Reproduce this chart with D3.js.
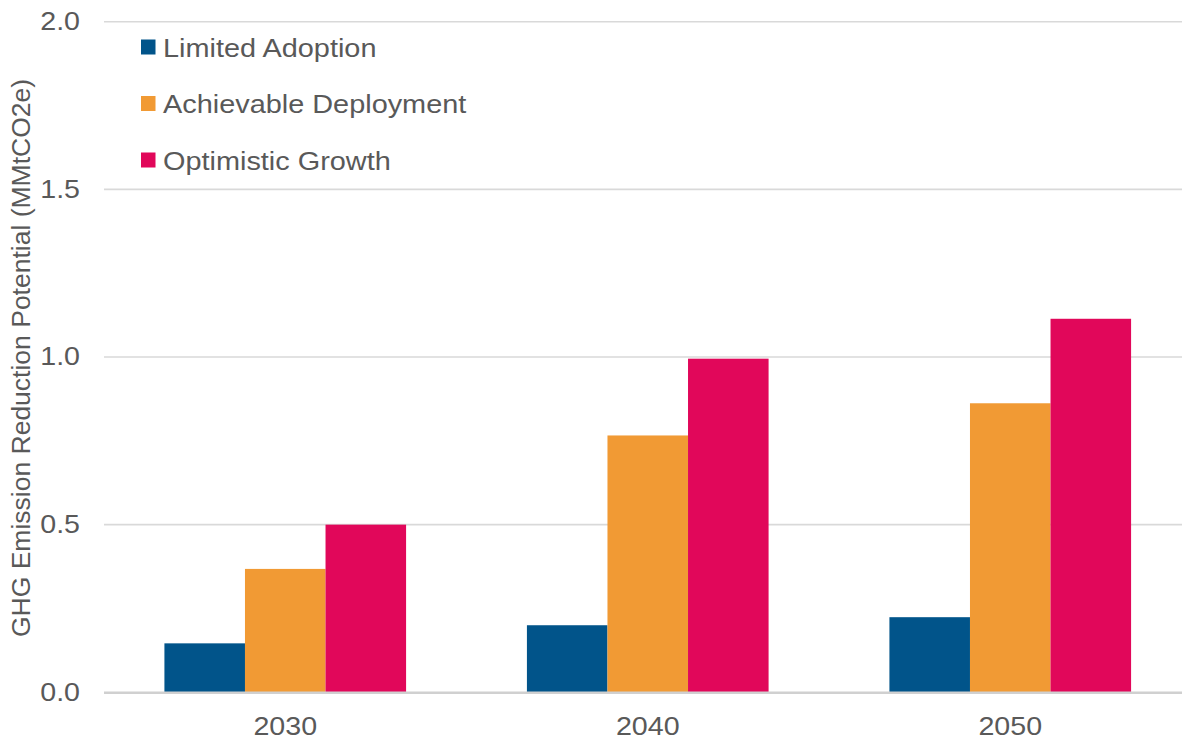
<!DOCTYPE html>
<html>
<head>
<meta charset="utf-8">
<script src="https://cdn.jsdelivr.net/npm/d3@7"></script>
<style>
  html, body { margin: 0; padding: 0; background: #ffffff; }
  svg { display: block; }
  text { font-family: "Liberation Sans", Arial, sans-serif; fill: #595959; }
</style>
</head>
<body>
<svg id="chart" width="1182" height="740"></svg>
<script>
// Reduction potential by milestone year and scenario (MMtCO2e)
const years = ["2030", "2040", "2050"];
const scenarios = ["Limited Adoption", "Achievable Deployment", "Optimistic Growth"];
const limitedAdoption = [0.146, 0.20, 0.224];
const achievableDeployment = [0.368, 0.766, 0.862];
const optimisticGrowth = [0.50, 0.995, 1.114];
const yTicks = [0, 0.5, 1.0, 1.5, 2.0];
const colors = ["#01548A", "#F19A34", "#E1075A"];
const yTitle = "GHG Emission Reduction Potential (MMtCO2e)";

const seriesValues = [limitedAdoption, achievableDeployment, optimisticGrowth];
const rows = years.map((yr, i) => ({
  year: yr,
  values: scenarios.map((s, j) => ({ key: s, value: seriesValues[j][i], color: colors[j] }))
}));

const svg = d3.select("#chart");
const W = 1182;
const plotLeft = 104, plotRight = 1191.5, plotTop = 21.7, plotBottom = 692.3;
const widen = "scale(1.08,1)"; // slightly wide lettering

const x0 = d3.scaleBand().domain(years).range([plotLeft, plotRight])
  .paddingInner(1 / 3).paddingOuter(1 / 6);
const x1 = d3.scaleBand().domain(scenarios).range([0, x0.bandwidth()]).padding(0);
const y = d3.scaleLinear().domain([0, 2]).range([plotBottom, plotTop]);

// Horizontal gridlines
svg.append("g").selectAll("line").data(yTicks.filter(d => d > 0)).join("line")
  .attr("x1", plotLeft).attr("x2", W)
  .attr("y1", d => y(d)).attr("y2", d => y(d))
  .attr("stroke", "#d9d9d9").attr("stroke-width", 1.6);

// Clustered bars
const groups = svg.append("g").selectAll("g").data(rows).join("g")
  .attr("transform", d => `translate(${x0(d.year)},0)`);
groups.selectAll("rect").data(d => d.values).join("rect")
  .attr("x", d => x1(d.key))
  .attr("width", x1.bandwidth())
  .attr("y", d => y(d.value))
  .attr("height", d => y(0) - y(d.value))
  .attr("fill", d => d.color);

// Category baseline
svg.append("line")
  .attr("x1", plotLeft).attr("x2", W)
  .attr("y1", y(0) + 0.5).attr("y2", y(0) + 0.5)
  .attr("stroke", "#d0d0d0").attr("stroke-width", 2.6);

// Value axis labels
const yg = svg.append("g")
  .attr("transform", "translate(80,0)")
  .call(d3.axisLeft(y).tickValues(yTicks).tickFormat(d3.format(".1f")).tickSize(0).tickPadding(0));
yg.select(".domain").remove();
yg.selectAll(".tick text")
  .attr("x", 0)
  .attr("dy", "0.3em")
  .attr("transform", widen)
  .style("font-size", "26.5px")
  .attr("fill", "#595959");
yg.attr("font-family", null).attr("font-size", null);

// Category axis labels
const xg = svg.append("g")
  .attr("transform", "translate(0,735)")
  .call(d3.axisBottom(x0).tickSize(0).tickPadding(0));
xg.select(".domain").remove();
xg.selectAll(".tick text")
  .attr("y", 0).attr("dy", 0)
  .attr("transform", widen)
  .style("font-size", "26.5px")
  .attr("fill", "#595959");
xg.attr("font-family", null).attr("font-size", null);

// Value axis title
svg.append("text")
  .attr("transform", "translate(30,358) rotate(-90)")
  .attr("text-anchor", "middle")
  .style("font-size", "26.5px")
  .text(yTitle);

// Legend
const legend = svg.append("g").selectAll("g").data(scenarios).join("g")
  .attr("transform", (d, i) => `translate(141,${47 + i * 56.5})`);
legend.append("rect")
  .attr("x", 0).attr("y", -7.5).attr("width", 14.5).attr("height", 15)
  .attr("fill", (d, i) => colors[i]);
legend.append("text")
  .attr("transform", "translate(22,0) scale(1.09,1)")
  .attr("dy", "0.36em")
  .style("font-size", "26.5px")
  .text(d => d);
</script>
</body>
</html>
